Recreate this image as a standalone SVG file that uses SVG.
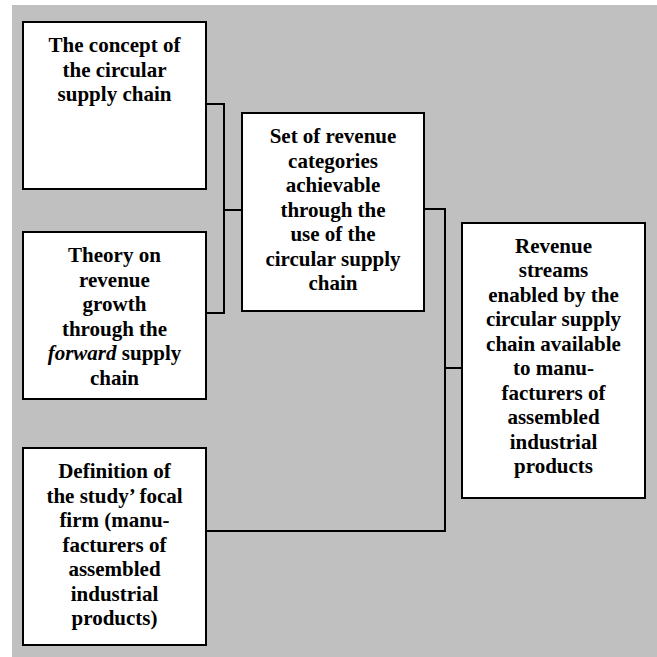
<svg xmlns="http://www.w3.org/2000/svg" width="657" height="657" viewBox="0 0 657 657">
<style>
.box{fill:#ffffff;stroke:#000000;stroke-width:2}
.t{font-family:"Liberation Serif","Times New Roman",serif;font-weight:bold;font-size:21px;fill:#000000;text-anchor:middle}
.c{fill:none;stroke:#000000;stroke-width:2}
</style>
<rect x="12" y="5" width="645" height="652" fill="#c0c0c0"/>
<g id="connectors">
<polyline class="c" points="206,104 224,104 224,313 206,313"/>
<line class="c" x1="224" y1="210" x2="242" y2="210"/>
<polyline class="c" points="424,209 445,209 445,531 206,531"/>
<line class="c" x1="445" y1="368" x2="462" y2="368"/>
</g>
<g id="concept">
<rect class="box" x="23" y="22" width="183" height="167"/>
<text class="t"><tspan x="114.5" y="52">The concept of</tspan><tspan x="114.5" y="76.5">the circular</tspan><tspan x="114.5" y="101">supply chain</tspan></text>
</g>
<g id="theory">
<rect class="box" x="23" y="232" width="183" height="167"/>
<text class="t"><tspan x="114.5" y="262">Theory on</tspan><tspan x="114.5" y="286.5">revenue</tspan><tspan x="114.5" y="311">growth</tspan><tspan x="114.5" y="335.5">through the</tspan><tspan x="114.5" y="360"><tspan font-style="italic">forward</tspan> supply</tspan><tspan x="114.5" y="384.5">chain</tspan></text>
</g>
<g id="definition">
<rect class="box" x="23" y="448" width="183" height="197"/>
<text class="t"><tspan x="114.5" y="478">Definition of</tspan><tspan x="114.5" y="502.5">the study’ focal</tspan><tspan x="114.5" y="527">firm (manu-</tspan><tspan x="114.5" y="551.5">facturers of</tspan><tspan x="114.5" y="576">assembled</tspan><tspan x="114.5" y="600.5">industrial</tspan><tspan x="114.5" y="625">products)</tspan></text>
</g>
<g id="set">
<rect class="box" x="242" y="113" width="182" height="198"/>
<text class="t"><tspan x="333" y="143">Set of revenue</tspan><tspan x="333" y="167.5">categories</tspan><tspan x="333" y="192">achievable</tspan><tspan x="333" y="216.5">through the</tspan><tspan x="333" y="241">use of the</tspan><tspan x="333" y="265.5">circular supply</tspan><tspan x="333" y="290">chain</tspan></text>
</g>
<g id="streams">
<rect class="box" x="462" y="223" width="183" height="275"/>
<text class="t"><tspan x="553.5" y="252.5">Revenue</tspan><tspan x="553.5" y="277">streams</tspan><tspan x="553.5" y="301.5">enabled by the</tspan><tspan x="553.5" y="326">circular supply</tspan><tspan x="553.5" y="350.5">chain available</tspan><tspan x="553.5" y="375">to manu-</tspan><tspan x="553.5" y="399.5">facturers of</tspan><tspan x="553.5" y="424">assembled</tspan><tspan x="553.5" y="448.5">industrial</tspan><tspan x="553.5" y="473">products</tspan></text>
</g>
</svg>
